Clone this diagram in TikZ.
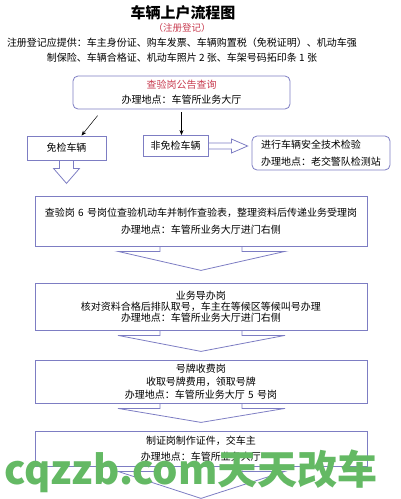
\documentclass[tikz,border=0pt]{standalone}
\usepackage{fontspec}
\setmainfont{Noto Sans CJK SC}
\usetikzlibrary{arrows.meta, positioning, calc}
\definecolor{boxblue}{RGB}{125,125,195}
\definecolor{notered}{RGB}{200,60,80}
\definecolor{markgreen}{RGB}{100,185,100}

\begin{document}
\begin{tikzpicture}[x=1pt, y=1pt,
    box/.style={draw=boxblue, line width=0.8pt, fill=white, inner sep=2pt, align=center},
    rbox/.style={box, rounded corners=5pt},
    wide/.style={box, minimum width=332pt, text width=326pt},
    hollow/.style={draw=boxblue, line width=0.8pt},
    link/.style={-{Stealth[length=5pt,width=4pt]}, line width=0.5pt},
    lab/.style={font=\fontsize{10}{#1}\selectfont},
    lab/.default=15
  ]
    \useasboundingbox (0,0) rectangle (400,-499);

    % heading
    \node[font=\bfseries\fontsize{15}{15}\selectfont] (title) at (183,-13) {车辆上户流程图};
    \node[text=notered, font=\fontsize{9.5}{10}\selectfont] (sub) at (182,-28) {（注册登记）};
    \node[lab, align=center] (req) at (182,-50.5)
      {注册登记应提供：车主身份证、购车发票、车辆购置税（免税证明）、机动车强\\
       制保险、车辆合格证、机动车照片 2 张、车架号码拓印条 1 张};

    % first steps
    \node[rbox, lab, minimum width=217pt, minimum height=33pt] (query) at (181.5,-92.5)
      {\textcolor{notered}{查验岗公告查询}\\办理地点：车管所业务大厅};
    \node[box, lab, minimum width=79pt, minimum height=24pt] (free) at (66.5,-148) {免检车辆};
    \node[box, lab, minimum width=65pt, minimum height=21pt] (nonfree) at (175.5,-146) {非免检车辆};
    \node[rbox, lab=17, align=left, minimum width=138pt, minimum height=34pt] (insp) at (321,-153)
      {进行车辆安全技术检验\\办理地点：老交警队检测站};

    \draw[link, shorten <=8pt] ([xshift=30pt]query.south west) -- ([xshift=15pt]free.north);
    \draw[link, shorten <=3pt] (query.south) -- (query.south |- nonfree.north);

    \draw[hollow] ($(nonfree.east)+(0,3)$) -- ++(23,0) -- ++(0,4)
      -- ($(insp.west |- nonfree.east)+(-4,0)$) -- ($(nonfree.east)+(23,-7)$)
      -- ++(0,4) -- ($(nonfree.east)+(0,-3)$);
    \draw[hollow] ($(free.south)+(-7,0)$) -- ++(0,-8) -- ++(-6,0)
      -- ($(free.south)+(0,-23)$) -- ($(free.south)+(13,-8)$) -- ++(-6,0) -- ++(0,8);

    % main counters
    \node[wide, lab=17, minimum height=50pt] (b2) at (201,-221)
      {查验岗 6 号岗位查验机动车并制作查验表，整理资料后传递业务受理岗\\办理地点：车管所业务大厅进门右侧};
    \node[wide, lab=11, minimum height=47pt] (b3) at (201,-306.5)
      {业务导办岗\\核对资料合格后排队取号，车主在等候区等候叫号办理\\办理地点：车管所业务大厅进门右侧};
    \node[wide, lab=13, minimum height=43pt] (b4) at (201,-381.5)
      {号牌收费岗\\收取号牌费用，领取号牌\\办理地点：车管所业务大厅 5 号岗};
    \node[wide, lab=16, minimum height=35pt] (b5) at (201,-448.5)
      {制证岗制作证件，交车主\\办理地点：车管所业务大厅};

    \foreach \a/\t in {b2/24, b3/21, b4/19, b5/32}
      \draw[hollow] ($(\a.south)+(-41,0)$) -- ++(0,-5) -- ++(-42,0)
        -- ($(\a.south)+(0,-\t)$) -- ($(\a.south)+(84,-5)$) -- ++(-43,0) -- ++(0,5);

    % watermark
    \node[text=markgreen, font=\bfseries\fontsize{40}{40}\selectfont, anchor=base west, inner sep=0pt]
      (mark) at (4,-484) {cqzzb.com天天改车};
\end{tikzpicture}
\end{document}
